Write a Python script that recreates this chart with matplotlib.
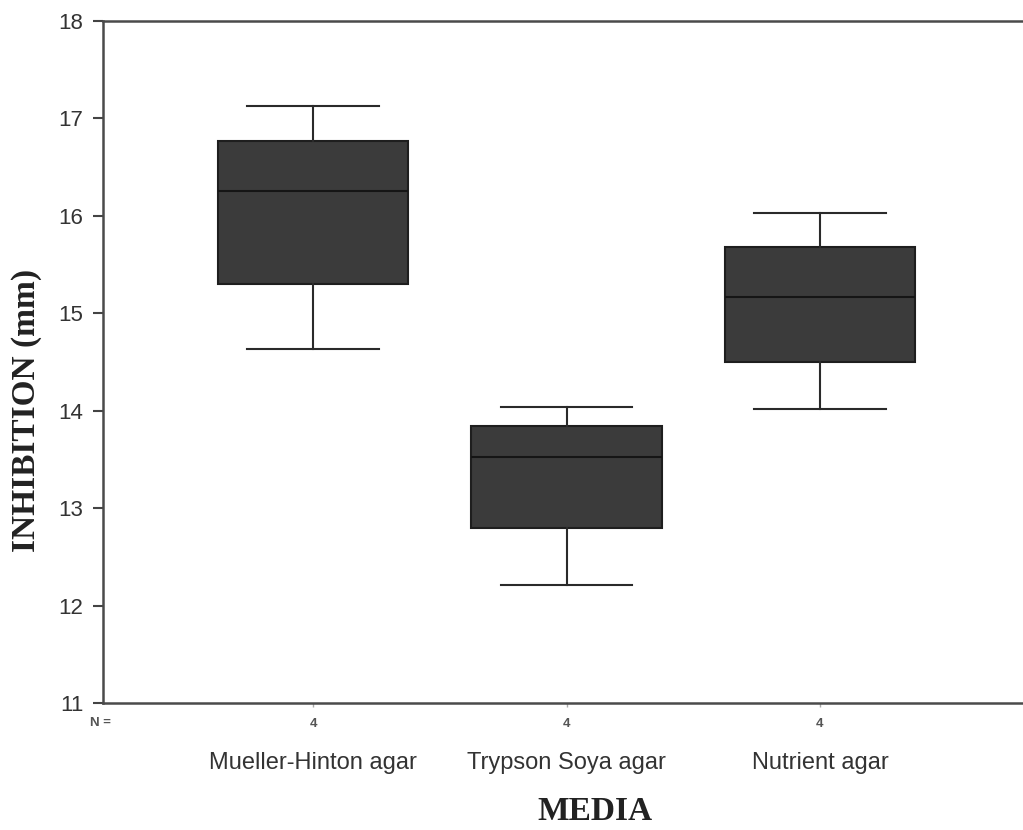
import matplotlib
matplotlib.use("Agg")
import matplotlib.pyplot as plt
import matplotlib.transforms as mtransforms

categories = ["Mueller-Hinton agar", "Trypson Soya agar", "Nutrient agar"]
n_counts = [4, 4, 4]
whisker_low = [14.63, 12.21, 14.02]
q1 = [15.30, 12.80, 14.50]
median = [16.25, 13.52, 15.17]
q3 = [16.77, 13.84, 15.68]
whisker_high = [17.13, 14.04, 16.03]
yticks = [11, 12, 13, 14, 15, 16, 17, 18]

plt.rcParams['font.family'] = ['Liberation Sans', 'DejaVu Sans']

fig = plt.figure(figsize=(10.23, 8.30), dpi=100)
ax = fig.add_axes([103/1023, 1 - 703/830, 1 - 103/1023, (703 - 21)/830])

stats = []
for i, c in enumerate(categories):
    stats.append(dict(label=c, whislo=whisker_low[i], q1=q1[i], med=median[i],
                      q3=q3[i], whishi=whisker_high[i], fliers=[]))
positions = [1, 2, 3]
ax.bxp(stats, positions=positions, widths=0.75, patch_artist=True,
       showfliers=False,
       boxprops=dict(facecolor='#3b3b3b', edgecolor='#1e1e1e', linewidth=1.5),
       medianprops=dict(color='#151515', linewidth=1.5),
       whiskerprops=dict(color='#2a2a2a', linewidth=1.5),
       capprops=dict(color='#2a2a2a', linewidth=1.5),
       capwidths=0.52)

ax.set_xlim(1 - (313 - 103)/253.5, 3 + (1023 - 820)/253.5)
ax.set_ylim(11, 18)
ax.set_yticks(yticks)
ax.tick_params(axis='y', labelsize=16, length=7, width=1.5, color='#444444', pad=7,
               labelcolor='#333333')
ax.set_xticks(positions)
ax.set_xticklabels([str(n) for n in n_counts], fontsize=9.5, fontweight='bold',
                   color='#555555')
ax.tick_params(axis='x', length=3, width=1, color='#aaaaaa', pad=8)

for s in ['left', 'bottom', 'top']:
    ax.spines[s].set_color('#4a4a4a')
    ax.spines[s].set_linewidth(1.8)
ax.spines['right'].set_visible(False)

trans = mtransforms.blended_transform_factory(ax.transData, fig.transFigure)
for p, c in zip(positions, categories):
    ax.text(p, 1 - 769/830, c, transform=trans, ha='center', va='baseline',
            fontsize=17, color='#333333')
fig.text(100/1023, 1 - 723/830, "N =", ha='center', va='center',
         fontsize=9.5, fontweight='bold', color='#555555')

fig.text(595/1023, 1 - 811/830, "MEDIA", ha='center', va='center',
         fontsize=24, fontweight='bold', family=['Liberation Serif', 'DejaVu Serif'],
         color='#222222')
fig.text(27/1023, 1 - 410/830, "INHIBITION (mm)", ha='center', va='center',
         rotation=90, fontsize=24, fontweight='bold',
         family=['Liberation Serif', 'DejaVu Serif'], color='#222222')

fig.savefig("out.png", dpi=100)
